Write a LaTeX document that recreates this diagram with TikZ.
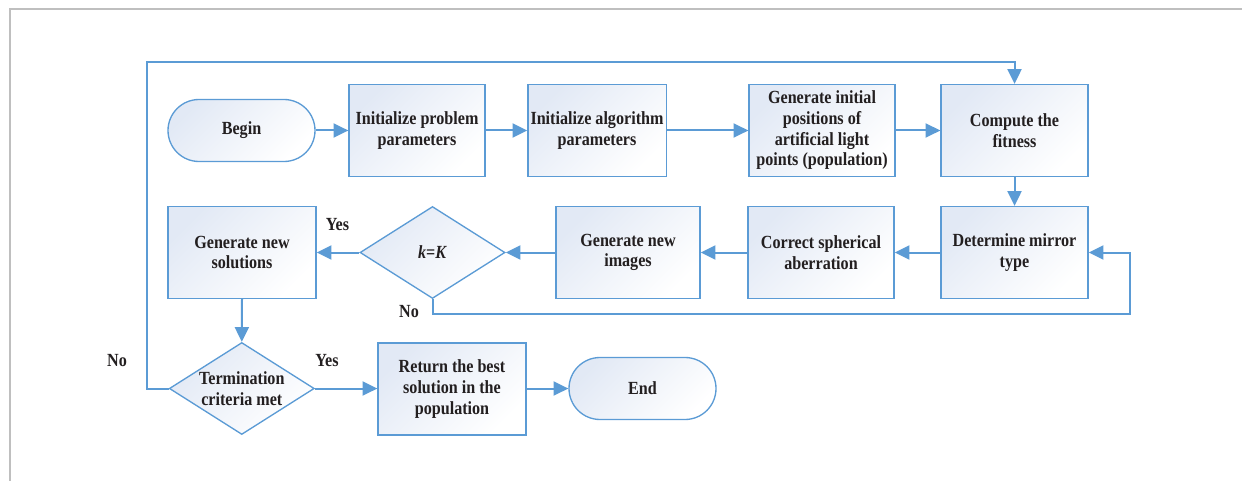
\documentclass[tikz,border=0pt]{standalone}
\usepackage{fontspec}
\setmainfont{Liberation Serif}[FakeStretch=0.87]
\usetikzlibrary{shapes.geometric,arrows.meta}
\definecolor{lc}{RGB}{91,155,213}
\definecolor{fc}{RGB}{226,233,245}
\definecolor{tc}{RGB}{35,31,32}
\definecolor{fr}{RGB}{191,191,191}
\tikzset{
  every node/.style={font=\bfseries\fontsize{13.9}{15.5}\selectfont, text=tc, align=center},
  base/.style={draw=lc, line width=1pt, left color=fc, right color=white, shading angle=45},
  box/.style={base, rectangle, minimum width=110.25pt, minimum height=69pt, inner sep=2pt},
  term/.style={base, rectangle, rounded corners=23.25pt, minimum width=110.25pt, minimum height=46.5pt},
  dia/.style={base, diamond, minimum width=108.75pt, minimum height=69pt, inner sep=0pt},
  arr/.style={draw=lc, line width=1.5pt, -{Triangle[length=11pt,width=10.5pt]}},
  lbl/.style={inner sep=0pt}
}
\begin{document}
\begin{tikzpicture}[x=0.75pt,y=-0.75pt]
\useasboundingbox (0,0) rectangle (1242,481);
\draw[fr, line width=1.5pt] (9.5,481) -- (9.5,9) -- (1242,9);

\node[term] (begin) at (241.5,130.5) {Begin};
\node[box, minimum width=102pt] (ip) at (417,130.5) {Initialize problem\\parameters};
\node[box, minimum width=102pt] (ia) at (597,130.5) {Initialize algorithm\\parameters};
\node[box, minimum width=109.5pt] (gi) at (822,130.5) {Generate initial\\positions of\\artificial light\\points (population)};
\node[box] (cf) at (1014.5,130.5) {Compute the\\fitness};
\node[box] (dm) at (1014.5,252.5) {Determine mirror\\type};
\node[box, minimum width=109.5pt] (cs) at (821,252.5) {Correct spherical\\aberration};
\node[box, minimum width=108pt] (gn) at (628,252.5) {Generate new\\images};
\node[dia, label={[name=kkl]center:\textit{k}=\textit{K}}] (kk) at (432.5,252.5) {};
\node[box, minimum width=111pt] (gs) at (242,252.5) {Generate new\\solutions};
\node[dia, label={[name=tml, align=center]center:Termination\\criteria met}] (tm) at (241.8,388.5) {};
\node[box, minimum width=111pt] (rb) at (452,389) {Return the best\\solution in the\\population};
\node[term] (end) at (642.5,388.5) {End};

\coordinate (lp) at (147,62);
\coordinate (kr) at (1130,314);

\draw[arr] (begin.east) -- (ip.west);
\draw[arr] (ip.east) -- (ia.west);
\draw[arr] (ia.east) -- (gi.west);
\draw[arr] (gi.east) -- (cf.west);
\draw[arr] (cf.south) -- (dm.north);
\draw[arr] (dm.west) -- (cs.east);
\draw[arr] (cs.west) -- (gn.east);
\draw[arr] (gn.west) -- (kk.east);
\draw[arr] (kk.west) -- (gs.east);
\draw[arr] (gs.south) -- (tm.north);
\draw[arr] (tm.east) -- (tm.east -| rb.west);
\draw[arr] (rb.east |- end.west) -- (end.west);
\draw[arr] (tm.west) -| (lp) -| (cf.north);
\draw[arr] (kk.south) |- (kr) |- (dm.east);

\node[lbl] (y1) at (337.5,225) {Yes};
\node[lbl] (n1) at (409,312) {No};
\node[lbl] (n2) at (117,361) {No};
\node[lbl] (y2) at (327,361) {Yes};
\end{tikzpicture}
\end{document}
